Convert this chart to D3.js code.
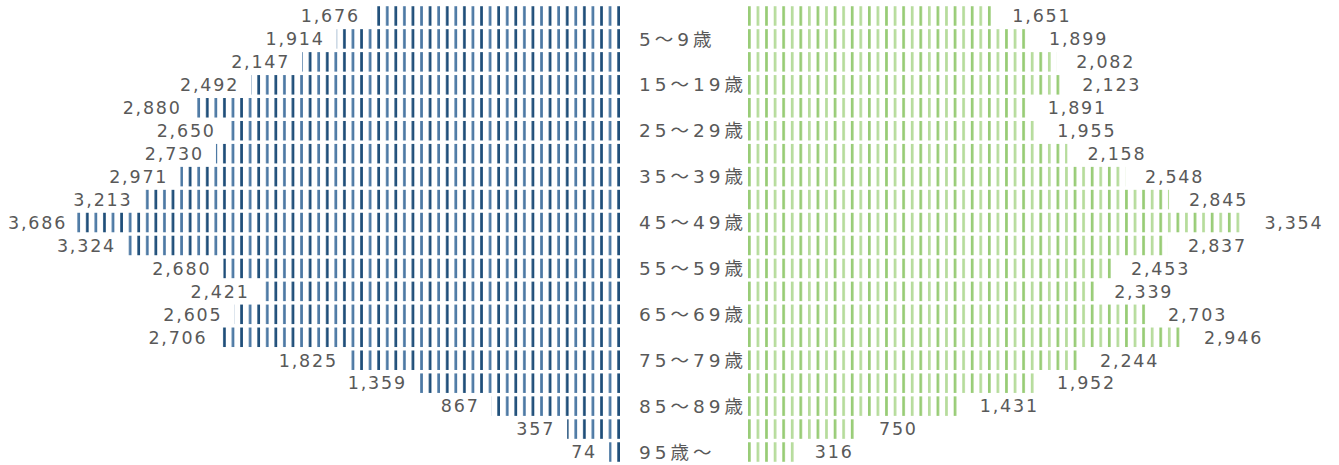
<!DOCTYPE html>
<html>
<head>
<meta charset="utf-8">
<script src="https://cdn.jsdelivr.net/npm/d3@7"></script>
<style>
  body { margin: 0; background: #fff; }
  svg { display: block; }
  text { font-family: "DejaVu Sans", "Noto Sans CJK JP", sans-serif; fill: #595959; }
</style>
</head>
<body>
<svg id="chart"></svg>
<script>
'use strict';
// age groups, top row = youngest
var ages = ['0～4歳', '5～9歳', '10～14歳', '15～19歳', '20～24歳', '25～29歳', '30～34歳', '35～39歳',
    '40～44歳', '45～49歳', '50～54歳', '55～59歳', '60～64歳', '65～69歳', '70～74歳', '75～79歳',
    '80～84歳', '85～89歳', '90～94歳', '95歳～'];
var male = [1676, 1914, 2147, 2492, 2880, 2650, 2730, 2971, 3213, 3686,
    3324, 2680, 2421, 2605, 2706, 1825, 1359, 867, 357, 74];
var female = [1651, 1899, 2082, 2123, 1891, 1955, 2158, 2548, 2845, 3354,
    2837, 2453, 2339, 2703, 2946, 2244, 1952, 1431, 750, 316];

var canvasWidth = 1339;
var canvasHeight = 465;
var leftAxis = 620;   // right edge of male bars
var rightAxis = 748;  // left edge of female bars
var period = 8.57;

var svg = d3.select('#chart')
    .attr('width', canvasWidth)
    .attr('height', canvasHeight);

var rows = d3.range(ages.length);

var yScale = d3.scaleBand()
    .domain(rows)
    .range([4.5, 463.5])
    .paddingInner(0.15)
    .paddingOuter(0.075);

var xScale = d3.scaleLinear()
    .domain([0, 4000])
    .range([0, 592]);

// striped fills
var defs = svg.append('defs');
var blue = defs.append('pattern')
    .attr('id', 'stripeBlue')
    .attr('patternUnits', 'userSpaceOnUse')
    .attr('x', leftAxis).attr('y', 0)
    .attr('width', period * 2).attr('height', 10);
blue.append('rect').attr('x', period - 2.7).attr('y', 0).attr('width', 2.7).attr('height', 10).attr('fill', '#4d79a4');
blue.append('rect').attr('x', period * 2 - 2.7).attr('y', 0).attr('width', 2.7).attr('height', 10).attr('fill', '#1f4e79');

var green = defs.append('pattern')
    .attr('id', 'stripeGreen')
    .attr('patternUnits', 'userSpaceOnUse')
    .attr('x', rightAxis).attr('y', 0)
    .attr('width', period * 2).attr('height', 10);
green.append('rect').attr('x', 0).attr('y', 0).attr('width', 2.7).attr('height', 10).attr('fill', '#98cc76');
green.append('rect').attr('x', period).attr('y', 0).attr('width', 2.7).attr('height', 10).attr('fill', '#b6dc9c');

// male bars
svg.append('g').selectAll('rect')
    .data(rows)
    .enter()
    .append('rect')
    .attr('x', function (i) { return leftAxis - xScale(male[i]); })
    .attr('y', function (i) { return yScale(i); })
    .attr('width', function (i) { return xScale(male[i]); })
    .attr('height', yScale.bandwidth())
    .attr('fill', 'url(#stripeBlue)');

// female bars
svg.append('g').selectAll('rect')
    .data(rows)
    .enter()
    .append('rect')
    .attr('x', rightAxis)
    .attr('y', function (i) { return yScale(i); })
    .attr('width', function (i) { return xScale(female[i]); })
    .attr('height', yScale.bandwidth())
    .attr('fill', 'url(#stripeGreen)');

var fmt = d3.format(',');

// male values
svg.append('g').selectAll('text')
    .data(rows)
    .enter()
    .append('text')
    .attr('x', function (i) { return leftAxis - xScale(male[i]) - 12; })
    .attr('y', function (i) { return yScale(i) + yScale.bandwidth() / 2; })
    .attr('dy', '0.36em')
    .attr('text-anchor', 'end')
    .style('font-size', '17.5px')
    .style('letter-spacing', '1.8px')
    .text(function (i) { return fmt(male[i]); })
    .each(function () {
        // keep the widest label inside the page
        var box = this.getBBox();
        if (box.x < 8) d3.select(this).attr('x', +d3.select(this).attr('x') + 8 - box.x);
    });

// female values
svg.append('g').selectAll('text')
    .data(rows)
    .enter()
    .append('text')
    .attr('x', function (i) { return rightAxis + xScale(female[i]) + 20; })
    .attr('y', function (i) { return yScale(i) + yScale.bandwidth() / 2; })
    .attr('dy', '0.36em')
    .style('font-size', '17.5px')
    .style('letter-spacing', '1.8px')
    .text(function (i) { return fmt(female[i]); });

// age labels, every other row
svg.append('g').selectAll('text')
    .data(rows.filter(function (i) { return i % 2 === 1; }))
    .enter()
    .append('text')
    .attr('x', 639)
    .attr('y', function (i) { return yScale(i) + yScale.bandwidth() / 2; })
    .attr('dy', '0.36em')
    .style('font-size', '18.5px')
    .style('letter-spacing', '4px')
    .text(function (i) { return ages[i]; });
</script>
</body>
</html>
